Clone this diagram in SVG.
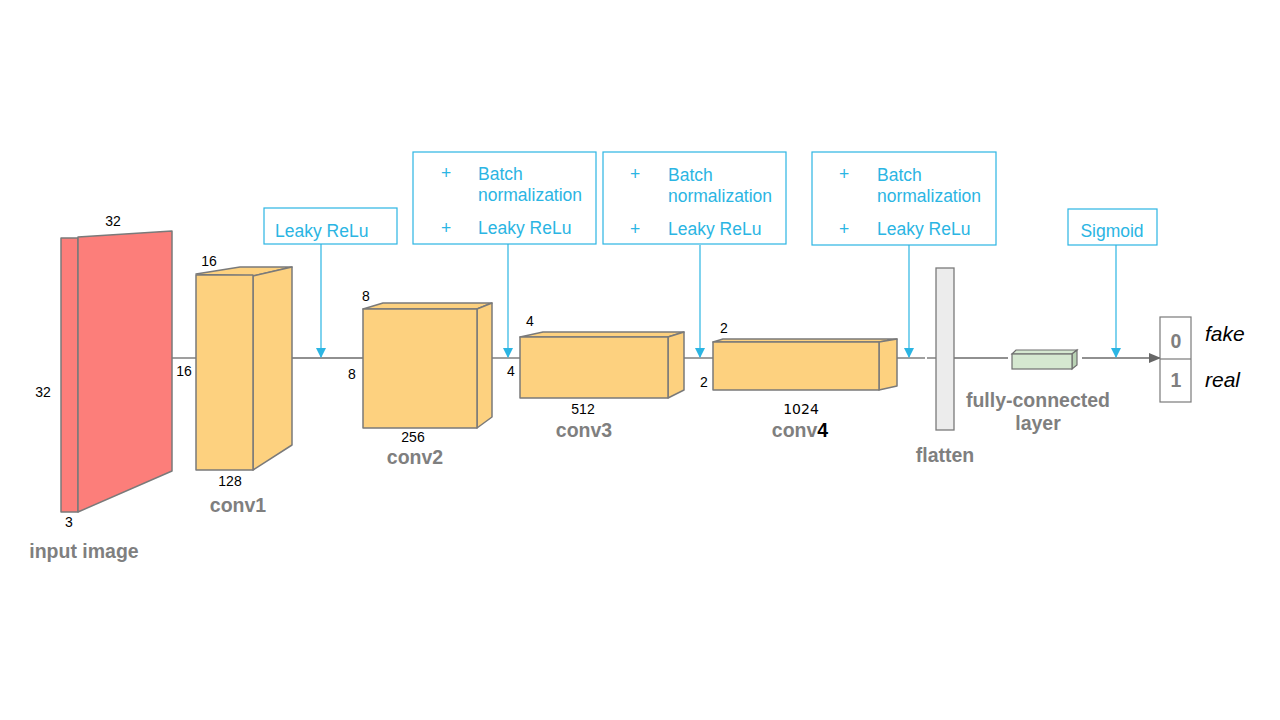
<svg xmlns="http://www.w3.org/2000/svg" width="1280" height="720" viewBox="0 0 1280 720">
<style>
.bg{fill:#ffffff}
.edge{stroke:#6b6b6b;stroke-width:1.3;fill:none}
.box{fill:#fdd17f;stroke:#7a7a7a;stroke-width:1.5;stroke-linejoin:round}
.red{fill:#fc7e7a;stroke:#7a7a7a;stroke-width:1.5;stroke-linejoin:round}
.note{fill:#ffffff;stroke:#2bb5e3;stroke-width:1.2}
.blue{stroke:#2bb5e3;stroke-width:1.2;fill:none}
.bt{font-family:"Liberation Sans",Arial,sans-serif;font-size:17.5px;fill:#2bb5e3}
.num{font-family:"Liberation Sans",Arial,sans-serif;font-size:14px;fill:#000}
.lbl{font-family:"Liberation Sans",Arial,sans-serif;font-size:19.5px;font-weight:bold;fill:#7f7f7f}
.it{font-family:"Liberation Sans",Arial,sans-serif;font-size:21px;font-style:italic;fill:#000}
</style>
<defs>
<marker id="ab" markerWidth="10" markerHeight="10" refX="9" refY="5" orient="auto" markerUnits="userSpaceOnUse">
<path d="M0,0 L10,5 L0,10 z" fill="#2bb5e3"/>
</marker>
<marker id="ag" markerWidth="12" markerHeight="10" refX="11" refY="5" orient="auto" markerUnits="userSpaceOnUse">
<path d="M0,0 L12,5 L0,10 z" fill="#666"/>
</marker>
</defs>
<rect class="bg" width="1280" height="720"/>

<g id="connectors">
<line class="edge" x1="172" y1="358" x2="196" y2="358"/>
<line class="edge" x1="292" y1="358" x2="363" y2="358"/>
<line class="edge" x1="492" y1="358" x2="520" y2="358"/>
<line class="edge" x1="684" y1="358" x2="713" y2="358"/>
<line class="edge" x1="897" y1="358" x2="925" y2="358"/>
<line class="edge" x1="927" y1="358" x2="936" y2="358"/>
<line class="edge" x1="954" y1="358" x2="1008" y2="358"/>
<line class="edge" x1="1082" y1="358" x2="1160" y2="358" marker-end="url(#ag)"/>
<line class="blue" x1="321" y1="244" x2="321" y2="357" marker-end="url(#ab)"/>
<line class="blue" x1="508" y1="244" x2="508" y2="357" marker-end="url(#ab)"/>
<line class="blue" x1="700" y1="245" x2="700" y2="357" marker-end="url(#ab)"/>
<line class="blue" x1="909" y1="245" x2="909" y2="357" marker-end="url(#ab)"/>
<line class="blue" x1="1116" y1="245" x2="1116" y2="357" marker-end="url(#ab)"/>
</g>

<g id="input-image">
<rect class="red" x="61" y="238" width="17" height="274"/>
<polygon class="red" points="78,237 172,231 172,471 78,512"/>
<text class="num" x="113" y="226" text-anchor="middle">32</text>
<text class="num" x="43" y="397" text-anchor="middle">32</text>
<text class="num" x="69" y="527" text-anchor="middle">3</text>
<text class="lbl" x="84" y="558" text-anchor="middle">input image</text>
</g>

<g id="conv1">
<polygon class="box" points="196,274 240,267 292,267 253,276"/>
<polygon class="box" points="253,276 292,267 292,445 253,470"/>
<rect class="box" x="196" y="275" width="57" height="195"/>
<text class="num" x="209" y="266" text-anchor="middle">16</text>
<text class="num" x="184" y="376" text-anchor="middle">16</text>
<text class="num" x="230" y="486" text-anchor="middle">128</text>
<text class="lbl" x="238" y="512" text-anchor="middle">conv1</text>
</g>

<g id="leaky1">
<rect class="note" x="264" y="208" width="133" height="36"/>
<text class="bt" x="275" y="237">Leaky ReLu</text>
</g>

<g id="conv2">
<polygon class="box" points="363,309 383,303 492,303 477,309"/>
<polygon class="box" points="477,309 492,303 492,417 477,428"/>
<rect class="box" x="363" y="309" width="114" height="119"/>
<text class="num" x="366" y="301" text-anchor="middle">8</text>
<text class="num" x="352" y="379" text-anchor="middle">8</text>
<text class="num" x="413" y="442" text-anchor="middle">256</text>
<text class="lbl" x="415" y="464" text-anchor="middle">conv2</text>
</g>

<g id="bn1">
<rect class="note" x="413" y="152" width="183" height="92"/>
<text class="bt" x="446" y="179" text-anchor="middle">+</text>
<text class="bt" x="478" y="180">Batch</text>
<text class="bt" x="478" y="201">normalization</text>
<text class="bt" x="446" y="234" text-anchor="middle">+</text>
<text class="bt" x="478" y="234">Leaky ReLu</text>
</g>

<g id="conv3">
<polygon class="box" points="520,337 543,332 684,332 668,337"/>
<polygon class="box" points="668,337 684,332 684,390 668,398"/>
<rect class="box" x="520" y="337" width="148" height="61"/>
<text class="num" x="530" y="326" text-anchor="middle">4</text>
<text class="num" x="511" y="376" text-anchor="middle">4</text>
<text class="num" x="583" y="414" text-anchor="middle">512</text>
<text class="lbl" x="584" y="437" text-anchor="middle">conv3</text>
</g>

<g id="bn2">
<rect class="note" x="603" y="152" width="183" height="92"/>
<text class="bt" x="635" y="180" text-anchor="middle">+</text>
<text class="bt" x="668" y="181">Batch</text>
<text class="bt" x="668" y="202">normalization</text>
<text class="bt" x="635" y="235" text-anchor="middle">+</text>
<text class="bt" x="668" y="235">Leaky ReLu</text>
</g>

<g id="conv4">
<polygon class="box" points="713,342 723,339 897,339 879,342"/>
<polygon class="box" points="879,342 897,339 897,386 879,390"/>
<rect class="box" x="713" y="342" width="166" height="48"/>
<text class="num" x="724" y="333" text-anchor="middle">2</text>
<text class="num" x="704" y="387" text-anchor="middle">2</text>
<text class="num" x="801" y="414" text-anchor="middle" style="font-family:'DejaVu Sans',sans-serif;font-size:14px">1024</text>
<text class="lbl" x="800" y="437" text-anchor="middle">conv<tspan fill="#000">4</tspan></text>
</g>

<g id="bn3">
<rect class="note" x="812" y="152" width="184" height="93"/>
<text class="bt" x="844" y="180" text-anchor="middle">+</text>
<text class="bt" x="877" y="181">Batch</text>
<text class="bt" x="877" y="202">normalization</text>
<text class="bt" x="844" y="235" text-anchor="middle">+</text>
<text class="bt" x="877" y="235">Leaky ReLu</text>
</g>

<g id="flatten">
<rect x="936" y="268" width="18" height="162" fill="#ececec" stroke="#7a7a7a" stroke-width="1.3"/>
<text class="lbl" x="945" y="462" text-anchor="middle">flatten</text>
</g>

<g id="fc">
<polygon points="1012,354 1016,350 1077,350 1072,354" fill="#d5e8d0" stroke="#6f6f6f" stroke-width="1.2"/>
<polygon points="1072,354 1077,350 1077,365 1072,369" fill="#b9d2b4" stroke="#6f6f6f" stroke-width="1.2"/>
<rect x="1012" y="354" width="60" height="15" fill="#d5e8d0" stroke="#6f6f6f" stroke-width="1.2"/>
<text class="lbl" x="1038" y="407" text-anchor="middle">fully-connected</text>
<text class="lbl" x="1038" y="430" text-anchor="middle">layer</text>
</g>

<g id="sigmoid">
<rect class="note" x="1068" y="209" width="89" height="36"/>
<text class="bt" x="1112" y="237" text-anchor="middle">Sigmoid</text>
</g>

<g id="output">
<rect x="1160" y="317" width="31" height="85" fill="#fff" stroke="#7a7a7a" stroke-width="1.2"/>
<line x1="1160" y1="359" x2="1191" y2="359" stroke="#7a7a7a" stroke-width="1.2"/>
<text class="lbl" x="1176" y="348" text-anchor="middle">0</text>
<text class="lbl" x="1176" y="387" text-anchor="middle">1</text>
<text class="it" x="1205" y="341">fake</text>
<text class="it" x="1205" y="387">real</text>
</g>
</svg>
